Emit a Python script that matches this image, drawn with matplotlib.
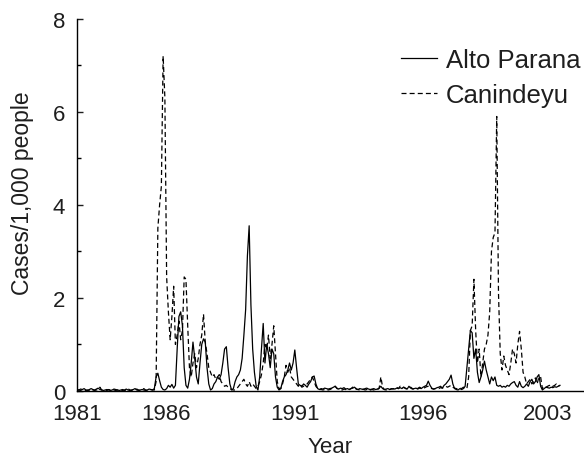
import matplotlib
matplotlib.use("Agg")
import matplotlib.pyplot as plt
from matplotlib.ticker import MultipleLocator

plt.rcParams['font.family'] = ['Liberation Sans', 'DejaVu Sans']

# Monthly cases per 1,000 people (index = month since start of series)
alto_parana = [
    0.03,0.02,0.04,0.03,0.05,0.02,0.01,0.03,0.05,0.03,0.02,0.04,
    0.06,0.03,0.02,0.01,0.02,0.03,0.02,0.01,0.02,0.04,0.03,0.02,
    0.01,0.02,0.01,0.02,0.04,0.02,0.01,0.02,0.03,0.05,0.02,0.01,
    0.02,0.03,0.02,0.01,0.02,0.04,0.03,0.02,0.05,0.30,0.38,0.22,
    0.08,0.03,0.02,0.05,0.12,0.08,0.14,0.06,0.12,0.90,1.60,1.70,
    1.40,0.50,0.12,0.06,0.25,0.60,1.05,0.70,0.30,0.15,0.60,1.00,
    1.12,1.05,0.50,0.15,0.02,0.05,0.15,0.20,0.30,0.25,0.35,0.60,
    0.90,0.95,0.50,0.15,0.02,0.05,0.20,0.30,0.35,0.45,0.70,1.20,
    1.75,2.90,3.55,1.85,0.90,0.40,0.10,0.02,0.30,0.90,1.45,0.60,
    1.00,0.80,0.50,0.90,0.80,0.30,0.08,0.02,0.05,0.20,0.30,0.35,
    0.45,0.60,0.45,0.60,0.88,0.50,0.15,0.12,0.10,0.15,0.12,0.08,
    0.15,0.20,0.30,0.32,0.15,0.05,0.03,0.05,0.04,0.06,0.05,0.04,
    0.05,0.06,0.08,0.10,0.05,0.04,0.06,0.05,0.07,0.04,0.05,0.03,
    0.05,0.06,0.08,0.04,0.03,0.05,0.04,0.03,0.05,0.06,0.04,0.03,
    0.04,0.05,0.03,0.04,0.06,0.10,0.05,0.03,0.04,0.05,0.03,0.04,
    0.05,0.04,0.06,0.05,0.07,0.05,0.08,0.06,0.04,0.10,0.06,0.04,
    0.05,0.06,0.04,0.06,0.05,0.08,0.10,0.12,0.21,0.12,0.06,0.04,
    0.05,0.07,0.08,0.10,0.06,0.12,0.15,0.20,0.25,0.34,0.15,0.05,
    0.03,0.02,0.05,0.03,0.05,0.10,0.50,0.90,1.30,1.25,0.70,0.90,
    0.40,0.18,0.30,0.45,0.64,0.45,0.30,0.15,0.30,0.22,0.30,0.12,
    0.10,0.12,0.08,0.10,0.08,0.12,0.10,0.15,0.18,0.20,0.12,0.08,
    0.20,0.10,0.07,0.10,0.15,0.10,0.20,0.25,0.15,0.20,0.30,0.35,
    0.10,0.02,0.05,0.08,0.07,0.06,0.08,0.07,0.09,0.08,0.10,0.12,
]

canindeyu = [
    0.01,0.02,0.01,0.03,0.02,0.01,0.02,0.01,0.03,0.02,0.01,0.02,
    0.03,0.08,0.02,0.01,0.02,0.01,0.03,0.02,0.01,0.02,0.01,0.02,
    0.01,0.02,0.03,0.01,0.02,0.05,0.02,0.01,0.03,0.02,0.04,0.02,
    0.01,0.03,0.05,0.02,0.01,0.02,0.03,0.02,0.02,0.20,3.50,4.00,
    4.40,7.20,6.30,2.45,1.70,1.10,1.60,2.25,1.00,1.20,1.50,1.10,
    1.30,2.45,2.40,1.40,0.50,0.30,0.60,0.80,0.50,0.70,1.00,1.20,
    1.65,1.05,0.80,0.50,0.40,0.30,0.35,0.25,0.30,0.35,0.20,0.15,
    0.10,0.12,0.08,0.05,0.03,0.02,0.02,0.05,0.10,0.15,0.20,0.25,
    0.15,0.10,0.20,0.10,0.15,0.10,0.05,0.10,0.20,0.35,0.60,1.00,
    0.90,1.20,0.70,1.00,1.40,0.80,0.20,0.05,0.05,0.15,0.30,0.55,
    0.40,0.50,0.30,0.25,0.20,0.15,0.10,0.15,0.08,0.10,0.12,0.15,
    0.20,0.25,0.30,0.20,0.10,0.05,0.03,0.03,0.02,0.03,0.04,0.02,
    0.03,0.05,0.08,0.10,0.06,0.04,0.03,0.02,0.04,0.03,0.02,0.03,
    0.05,0.08,0.10,0.04,0.03,0.02,0.03,0.04,0.02,0.03,0.05,0.02,
    0.03,0.02,0.04,0.03,0.05,0.30,0.08,0.03,0.02,0.04,0.03,0.05,
    0.04,0.06,0.08,0.05,0.10,0.06,0.08,0.05,0.04,0.06,0.08,0.05,
    0.04,0.06,0.05,0.08,0.06,0.05,0.07,0.09,0.10,0.06,0.05,0.04,
    0.05,0.06,0.05,0.07,0.06,0.08,0.10,0.08,0.10,0.12,0.08,0.06,
    0.05,0.04,0.06,0.05,0.08,0.05,0.05,0.30,1.30,1.40,2.40,1.30,
    0.60,0.90,0.30,0.60,0.90,1.00,1.20,1.70,3.00,3.30,3.40,5.90,
    2.10,0.80,0.45,0.75,0.55,0.45,0.35,0.60,0.90,0.80,0.60,1.00,
    1.28,0.90,0.40,0.30,0.15,0.20,0.25,0.15,0.20,0.28,0.15,0.30,
    0.30,0.05,0.10,0.08,0.10,0.12,0.08,0.10,0.12,0.15,0.10,0.12,
]

months = list(range(len(alto_parana)))

year_labels = ['1981', '1986', '1991', '1996', '2003']
year_label_months = [0, 50.7, 124.1, 197.0, 268.2]

y_ticks = [0, 2, 4, 6, 8]

text_color = '#1e1e1e'

fig = plt.figure(figsize=(5.84, 4.60), dpi=100)
ax = fig.add_axes([0.132, 0.148, 0.868, 0.809])

ax.plot(months, alto_parana, color='black', lw=0.9, ls='-', label='Alto Parana')
ax.plot(months, canindeyu, color='black', lw=0.9, dashes=(4, 2.5), label='Canindeyu')

ax.set_xlim(0, 288.7)
ax.set_ylim(0, 8)

ax.spines['top'].set_visible(False)
ax.spines['right'].set_visible(False)
ax.spines['left'].set_linewidth(1.0)
ax.spines['bottom'].set_linewidth(1.0)

ax.set_yticks(y_ticks)
ax.set_yticklabels([str(v) for v in y_ticks])
ax.yaxis.set_minor_locator(MultipleLocator(1))
ax.tick_params(axis='y', which='major', direction='in', length=4, width=1,
               labelsize=16, colors=text_color, pad=8.5)
ax.tick_params(axis='y', which='minor', direction='in', length=3, width=1)

ax.set_xticks(year_label_months)
ax.set_xticklabels(year_labels)
ax.tick_params(axis='x', which='major', length=0, labelsize=16,
               colors=text_color, pad=9)

ax.set_xlabel('Year', fontsize=16, color=text_color, labelpad=8)
ax.set_ylabel('Cases/1,000 people', fontsize=16.5, color=text_color)
ax.yaxis.set_label_coords(-0.085, 0.535)

leg = ax.legend(loc='upper left', bbox_to_anchor=(0.629, 0.935), frameon=False,
                fontsize=18.5, handlelength=1.38, handletextpad=0.35,
                labelspacing=0.42, borderpad=0.2, borderaxespad=0.0)
for t in leg.get_texts():
    t.set_color(text_color)

fig.savefig('out.png', dpi=100)
